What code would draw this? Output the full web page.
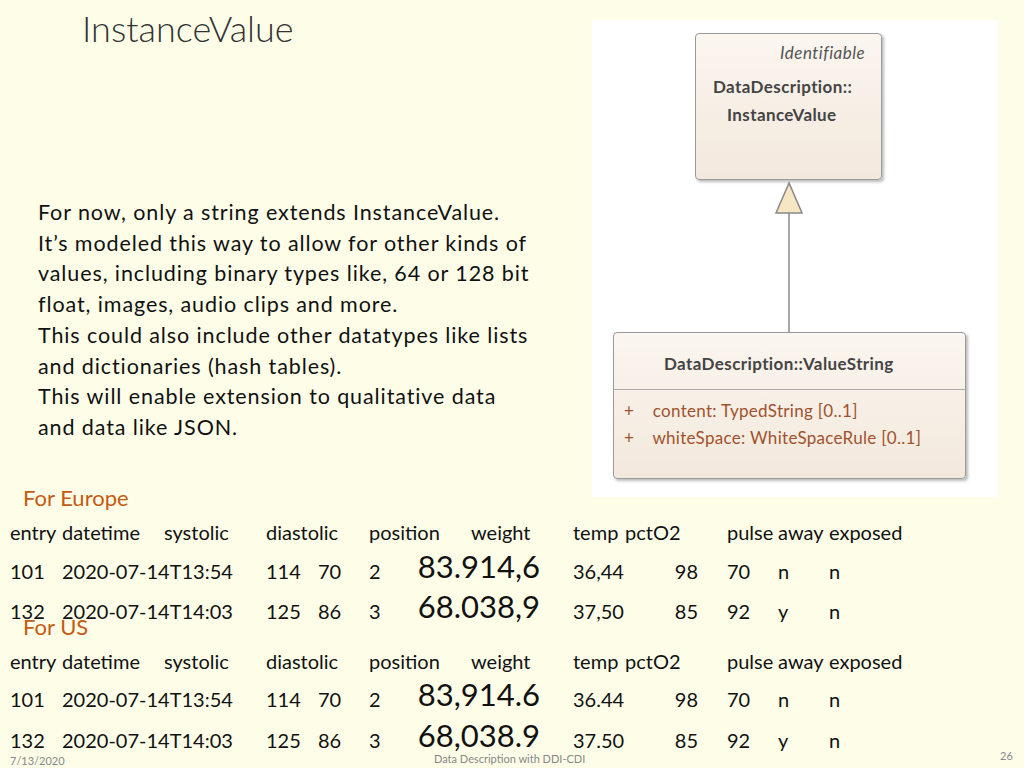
<!DOCTYPE html>
<html><head><meta charset="utf-8">
<script src="https://cdn.jsdelivr.net/npm/chart.js@4"></script>
<style>
body{margin:0;width:1024px;height:768px;background:#fdfde8;font-family:Lato,"Open Sans",sans-serif;position:relative;overflow:hidden;color:#111}
.a{position:absolute;white-space:nowrap;line-height:1}
.uml{position:absolute;background:linear-gradient(#fbf6f0,#f3e8dc);border:1.5px solid #9a9a9a;border-radius:4px;box-shadow:2px 2px 3px #bbb}
</style></head><body>
<div id="slide"></div>
<script>
// texto del parrafo
const parrafo = [
  "For now, only a string extends InstanceValue.",
  "It\u2019s modeled this way to allow for other kinds of",
  "values, including binary types like, 64 or 128 bit",
  "float, images, audio clips and more.",
  "This could also include other datatypes like lists",
  "and dictionaries (hash tables).",
  "This will enable extension to qualitative data",
  "and data like JSON."
];
const encabezados = ["entry","datetime","systolic","diastolic","position","weight","temp","pctO2","pulse","away","exposed"];
const colsHeader = [10,62,164,266,369,471,573,625,727,778,829];
const filasEuropa = [
  ["101","2020-07-14T13:54","114","70","2","83.914,6","36,44","98","70","n","n"],
  ["132","2020-07-14T14:03","125","86","3","68.038,9","37,50","85","92","y","n"]
];
const filasUS = [
  ["101","2020-07-14T13:54","114","70","2","83,914.6","36.44","98","70","n","n"],
  ["132","2020-07-14T14:03","125","86","3","68,038.9","37.50","85","92","y","n"]
];

const s = document.getElementById('slide');
function txt(t,x,y,size,extra){
  const d=document.createElement('div');d.className='a';d.textContent=t;
  d.style.left=x+'px';d.style.top=y+'px';d.style.fontSize=size+'px';
  if(extra) Object.assign(d.style,extra);
  s.appendChild(d);return d;
}
txt("InstanceValue",82,10,36,{color:'#333',fontWeight:300});
parrafo.forEach((l,i)=>txt(l,38,202+i*30.7,21.5,{letterSpacing:'0.9px'}));

function tabla(titulo,yT,yH,filas,yR){
  txt(titulo,23,yT,22,{color:'#c55a11'});
  encabezados.forEach((h,i)=>txt(h,colsHeader[i],yH,20));
  filas.forEach((f,r)=>{
    const y=yR[r];
    txt(f[0],10,y,20);txt(f[1],62,y,20);txt(f[2],266,y,20);txt(f[3],318,y,20);
    txt(f[4],369,y,20);
    txt(f[5],340,y-10,31,{width:'200px',textAlign:'right'});
    txt(f[6],573,y,20);
    txt(f[7],600,y,20,{width:'98px',textAlign:'right'});
    txt(f[8],727,y,20);txt(f[9],778,y,20);txt(f[10],829,y,20);
  });
}
tabla("For Europe",487,522,filasEuropa,[561,601]);
tabla("For US",616,651,filasUS,[689,730]);

txt("7/13/2020",10,755,11,{color:'#888'});
txt("Data Description with DDI-CDI",434,753,11,{color:'#888'});
txt("26",1000,750,11,{color:'#888'});

// diagrama UML
const p=document.createElement('div');p.className='a';
Object.assign(p.style,{left:'592px',top:'20px',width:'406px',height:'477px',background:'#fff'});
s.appendChild(p);
p.innerHTML=`
<div class="uml" style="left:103px;top:13px;width:185px;height:145px"></div>
<div class="a" style="left:188px;top:24px;font-size:17px;font-style:italic;color:#555;letter-spacing:0.5px">Identifiable</div>
<div class="a" style="left:121px;top:58px;font-size:17px;font-weight:bold;color:#444;letter-spacing:0.4px">DataDescription::</div>
<div class="a" style="left:135px;top:86px;font-size:17px;font-weight:bold;color:#444;letter-spacing:0.4px">InstanceValue</div>
<svg class="a" style="left:0;top:0" width="406" height="477">
 <polygon points="197,163 184,193 210,193" fill="#f6e6c4" stroke="#888" stroke-width="1.5"/>
 <line x1="197" y1="193" x2="197" y2="312" stroke="#888" stroke-width="1.5"/>
</svg>
<div class="uml" style="left:21px;top:312px;width:351px;height:145px"></div>
<div class="a" style="left:21px;top:369px;width:353px;border-top:1.5px solid #aaa"></div>
<div class="a" style="left:72px;top:335px;font-size:17px;font-weight:bold;color:#444;letter-spacing:0.4px">DataDescription::ValueString</div>
<div class="a" style="left:32px;top:382px;font-size:17px;color:#a0522d;letter-spacing:0.3px">+&nbsp;&nbsp;&nbsp;&nbsp;content: TypedString [0..1]</div>
<div class="a" style="left:32px;top:409px;font-size:17px;color:#a0522d;letter-spacing:0.3px">+&nbsp;&nbsp;&nbsp;&nbsp;whiteSpace: WhiteSpaceRule [0..1]</div>`;
</script>
</body></html>
